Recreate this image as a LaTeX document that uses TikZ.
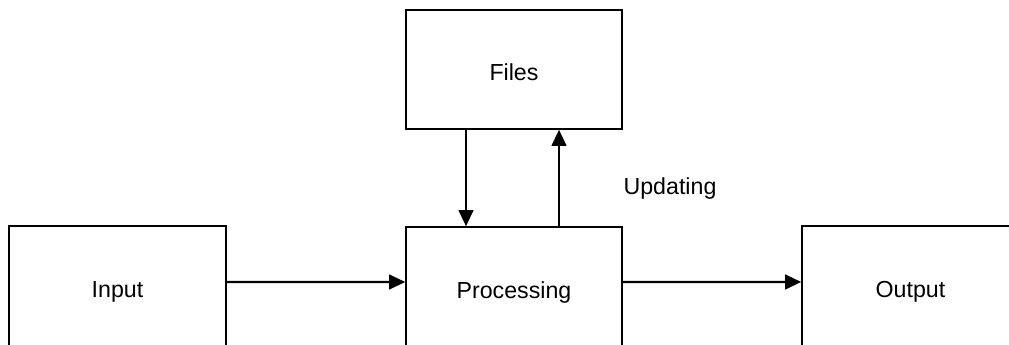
\documentclass[tikz,border=0pt]{standalone}
\usepackage{fontspec}
\setmainfont{Liberation Sans}
\usetikzlibrary{arrows.meta}
\begin{document}
\begin{tikzpicture}[x=0.75pt,y=-0.75pt,
  box/.style={draw=black,line width=1.2pt,rectangle,inner sep=0pt,text height=16.5pt,text depth=0pt,font=\fontsize{17.4}{20}\selectfont},
  arr/.style={line width=1.6pt,-{Triangle[length=12pt,width=11pt]}},
  lbl/.style={font=\fontsize{17.4}{20}\selectfont,inner sep=0pt}]
\useasboundingbox[clip] (0,0) rectangle (1009,345);
\node[box,minimum width=162.75pt,minimum height=90.75pt] (in) at (117.5,286.5) {Input};
\node[box,minimum width=162pt,minimum height=89.25pt] (files) at (514,69.5) {Files};
\node[box,minimum width=162pt,minimum height=90pt] (proc) at (514,287) {Processing};
\node[box,minimum width=162.75pt,minimum height=90.75pt] (out) at (910.5,286.5) {Output};
\node[lbl] (upd) at (670,189) {Updating};
\draw[arr] ([xshift=-36pt]files.south) -- ([xshift=-36pt]proc.north);
\draw[arr] ([xshift=33.75pt]proc.north) -- ([xshift=33.75pt]files.south);
\draw[arr] ([yshift=3.4pt]in.east) -- ([yshift=3.75pt]proc.west);
\draw[arr] ([yshift=3.75pt]proc.east) -- ([yshift=3.4pt]out.west);
\end{tikzpicture}
\end{document}
